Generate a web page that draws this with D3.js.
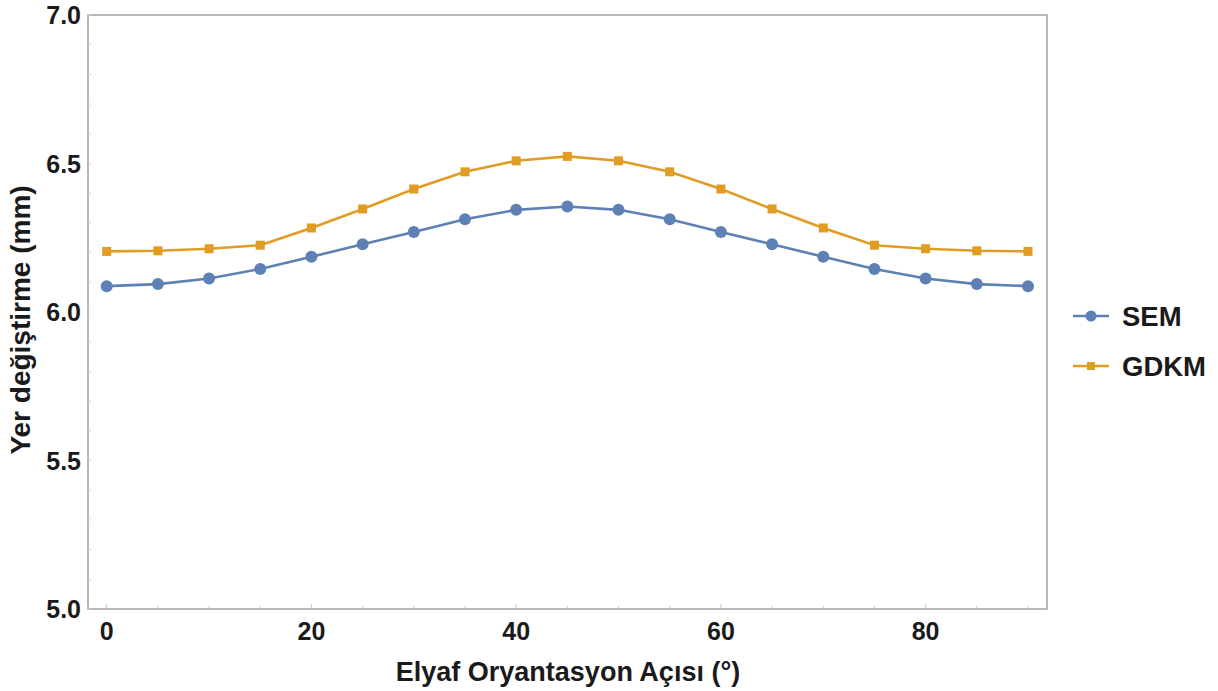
<!DOCTYPE html>
<html><head><meta charset="utf-8">
<script src="https://cdn.jsdelivr.net/npm/d3@7"></script>
<style>
body{margin:0;background:#fff;}
text{font-family:"Liberation Sans",Arial,sans-serif;font-weight:bold;fill:#1a1a1a;}
</style></head>
<body><svg id="c" width="1218" height="691"></svg>
<script>
const angles = [0,5,10,15,20,25,30,35,40,45,50,55,60,65,70,75,80,85,90];
const semValues = [6.087,6.094,6.113,6.145,6.186,6.228,6.269,6.312,6.344,6.355,6.344,6.312,6.269,6.228,6.186,6.145,6.113,6.094,6.087];
const gdkmValues = [6.204,6.206,6.213,6.225,6.283,6.347,6.414,6.472,6.509,6.524,6.509,6.472,6.414,6.347,6.283,6.225,6.213,6.206,6.204];
const xTicks = [0,20,40,60,80];
const yTicks = [5.0,5.5,6.0,6.5,7.0];
const seriesNames = ["SEM","GDKM"];
const colors = ["#5E81B5","#E19C24"];

const svg = d3.select("#c");
const L=88, R=1047, T=15, B=609;
const x = d3.scaleLinear().domain([0,90]).range([106.7,1028]);
const y = d3.scaleLinear().domain([5,7]).range([B,T]);

// frame
svg.append("rect").attr("x",L).attr("y",T).attr("width",R-L).attr("height",B-T)
  .attr("fill","none").attr("stroke","#a0a0a0").attr("stroke-width",1.5);

// minor ticks
const xMinor = d3.range(0,91,5);
svg.selectAll(".xt").data(xMinor).enter().append("line")
  .attr("x1",d=>x(d)).attr("x2",d=>x(d)).attr("y1",B).attr("y2",d=>B-(d%20===0?5:3))
  .attr("stroke","#c8c8c8").attr("stroke-width",1);
const yMinor = d3.range(5,7.001,0.1);
svg.selectAll(".yt").data(yMinor).enter().append("line")
  .attr("x1",L).attr("x2",d=>L+3).attr("y1",d=>y(d)).attr("y2",d=>y(d))
  .attr("stroke","#d0d0d0").attr("stroke-width",1);

// tick labels
svg.selectAll(".xl").data(xTicks).enter().append("text")
  .attr("x",d=>x(d)).attr("y",640).attr("text-anchor","middle")
  .attr("font-size",25).text(d=>d);
svg.selectAll(".yl").data(yTicks).enter().append("text")
  .attr("x",81).attr("y",d=>y(d)+9).attr("text-anchor","end")
  .attr("font-size",25).text(d=>d.toFixed(1));

// axis titles
svg.append("text").attr("x",568).attr("y",681).attr("text-anchor","middle")
  .attr("font-size",27).text("Elyaf Oryantasyon Açısı (°)");
svg.append("text").attr("transform","translate(30,320) rotate(-90)").attr("text-anchor","middle")
  .attr("font-size",28).text("Yer değiştirme (mm)");

const line = d3.line().x((d,i)=>x(angles[i])).y(d=>y(d));
const data = [semValues,gdkmValues];
data.forEach((vals,k)=>{
  svg.append("path").attr("d",line(vals)).attr("fill","none")
    .attr("stroke",colors[k]).attr("stroke-width",2.6);
});
// markers
svg.selectAll(".sem").data(semValues).enter().append("circle")
  .attr("cx",(d,i)=>x(angles[i])).attr("cy",d=>y(d)).attr("r",6).attr("fill",colors[0]);
svg.selectAll(".gd").data(gdkmValues).enter().append("rect")
  .attr("x",(d,i)=>x(angles[i])-4.5).attr("y",d=>y(d)-4.5).attr("width",9).attr("height",9).attr("fill",colors[1]);

// legend
const lg = [{n:seriesNames[0],c:colors[0],yy:316,shape:"c"},{n:seriesNames[1],c:colors[1],yy:366,shape:"s"}];
lg.forEach(d=>{
  svg.append("line").attr("x1",1073).attr("x2",1109).attr("y1",d.yy).attr("y2",d.yy)
    .attr("stroke",d.c).attr("stroke-width",2.6);
  if(d.shape==="c") svg.append("circle").attr("cx",1091).attr("cy",d.yy).attr("r",5.5).attr("fill",d.c);
  else svg.append("rect").attr("x",1087).attr("y",d.yy-4).attr("width",8).attr("height",8).attr("fill",d.c);
  svg.append("text").attr("x",1122).attr("y",d.yy+10).attr("font-size",27.5).text(d.n);
});
</script></body></html>
